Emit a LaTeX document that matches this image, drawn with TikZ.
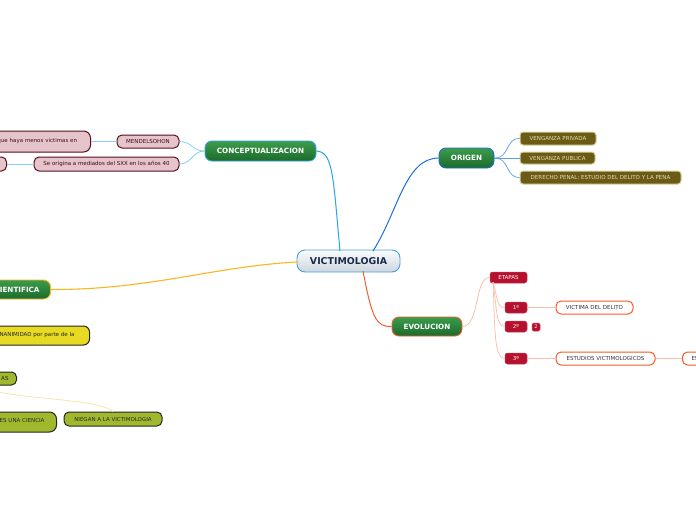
\documentclass[tikz,border=0pt]{standalone}
\usepackage{fontspec}
\setmainfont{DejaVu Sans}
\definecolor{gtop}{HTML}{3C9C4A}
\definecolor{gbot}{HTML}{1C6A2C}
\definecolor{vtop}{HTML}{FAFCFD}
\definecolor{vbot}{HTML}{CDD6DF}
\definecolor{vborder}{HTML}{4AA0DC}
\definecolor{vtext}{HTML}{1A2A4A}
\definecolor{pinkf}{HTML}{E6C4CB}
\definecolor{maroon}{HTML}{5A0F1E}
\definecolor{olivef}{HTML}{6B5B16}
\definecolor{oliveb}{HTML}{D8D2A0}
\definecolor{olivet}{HTML}{E6DDB0}
\definecolor{crimson}{HTML}{B5102D}
\definecolor{orangeb}{HTML}{F25A26}
\definecolor{yelf}{HTML}{E6DA22}
\definecolor{limef}{HTML}{A0B82E}
\definecolor{cLight}{HTML}{86D2F2}
\definecolor{cConc}{HTML}{2AA4E2}
\definecolor{cOrig}{HTML}{1A6FD8}
\definecolor{cOrigS}{HTML}{5C9CE6}
\definecolor{cEvol}{HTML}{F06030}
\definecolor{cEvolS}{HTML}{F8C0A8}
\definecolor{cSci}{HTML}{F8B820}
\definecolor{cFaint}{HTML}{F8E2A6}
\tikzset{
  smallfont/.style={font=\fontsize{5.5}{6.5}\selectfont},
  topic/.style={draw=#1, line width=0.9pt, rounded corners=7pt, top color=gtop, bottom color=gbot,
    text=white, font=\bfseries\fontsize{7.2}{8}\selectfont, inner sep=0pt},
  central/.style={draw=vborder, line width=0.9pt, rounded corners=8pt, top color=vtop, bottom color=vbot,
    text=vtext, font=\bfseries\fontsize{9.4}{10}\selectfont, inner sep=0pt},
  pinkbox/.style={draw=maroon, line width=1pt, fill=pinkf, rounded corners=5pt, text=maroon!70!black,
    smallfont, inner sep=0pt},
  olivebox/.style={draw=oliveb, line width=1pt, fill=olivef, rounded corners=3pt, text=olivet,
    smallfont, inner sep=0pt},
  redbox/.style={fill=crimson, draw=crimson!80!white, line width=0.5pt, rounded corners=2.5pt, text=white,
    smallfont, inner sep=0pt},
  whitebox/.style={draw=orangeb, line width=1pt, fill=white, rounded corners=5pt, text=black!80,
    smallfont, inner sep=0pt},
  yelbox/.style={draw=black!85, line width=1pt, fill=yelf, rounded corners=6pt, text=black!85,
    smallfont, inner sep=0pt},
  limebox/.style={draw=black!85, line width=1pt, fill=limef, rounded corners=5pt, text=black!85,
    smallfont, inner sep=0pt},
}
\begin{document}
\begin{tikzpicture}[x=1pt,y=-1pt]
\useasboundingbox (0,0) rectangle (696,520);
\fill[white] (0,0) rectangle (696,520);

\coordinate (vtl) at (340,251);
\coordinate (vtr) at (373,251);
\coordinate (vbr) at (363,271);
\coordinate (vl) at (298,262);

% central
\node[central, minimum width=103pt, minimum height=22pt] (v) at (348.5,261) {VICTIMOLOGIA};

% main topics
\node[topic=cConc, minimum width=111pt, minimum height=20pt] (c) at (260.5,151) {CONCEPTUALIZACION};
\node[topic=cOrig, minimum width=55pt, minimum height=20pt] (o) at (466.5,158) {ORIGEN};
\node[topic=cEvol, minimum width=70pt, minimum height=19pt] (e) at (427,326.5) {EVOLUCION};
\node[topic=cSci, anchor=east, minimum height=19pt, text width=80pt, align=right, inner xsep=11pt] (sci) at (51,289.5) {CIENTIFICA};

\draw[cConc, line width=1pt] (vtl) .. controls (333,175) and (333,152) .. (c.east);
\draw[cOrig, line width=1pt] (vtr) .. controls (398,212) and (405,158) .. (o.west);
\draw[cEvol, line width=1pt] (vbr) .. controls (372,318) and (376,327) .. (e.west);
\draw[cSci, line width=1.1pt] (vl) .. controls (215,266) and (150,290) .. (sci.east);

% conceptualizacion children
\node[pinkbox, minimum width=62pt, minimum height=13pt] (mend) at (148,141.5) {MENDELSOHON};
\node[pinkbox, minimum width=145pt, minimum height=14pt] (seor) at (106.5,164) {Se origina a mediados del SXX en los años 40};
\node[pinkbox, anchor=east, minimum height=21pt, text width=87pt, align=left, inner xsep=6pt, rounded corners=7pt] (que) at (91,141.5) {\raisebox{3pt}{que haya menos victimas en}};
\node[pinkbox, anchor=east, minimum width=30pt, minimum height=14pt] (lp) at (7,164) {};
\draw[cLight, line width=0.8pt] (c.west) .. controls (192,151) and (192,141.5) .. (mend.east);
\draw[cLight, line width=0.8pt] (c.west) .. controls (192,151) and (192,164) .. (seor.east);
\draw[cLight, line width=0.8pt] (mend.west) -- (que.east);
\draw[cLight, line width=0.8pt] (seor.west) -- (lp.east);

% origen children
\node[olivebox, minimum width=76pt, minimum height=13pt] (vpriv) at (558,138.5) {VENGANZA PRIVADA};
\node[olivebox, minimum width=75pt, minimum height=12pt] (vpub) at (557.5,158) {VENGANZA PUBLICA};
\node[olivebox, minimum width=161pt, minimum height=13pt] (dpen) at (600.5,177.5) {DERECHO PENAL: ESTUDIO DEL DELITO Y LA PENA};
\draw[cOrigS, line width=0.7pt] (o.east) .. controls (510,158) and (505,138.5) .. (vpriv.west);
\draw[cOrigS, line width=0.7pt] (o.east) -- (vpub.west);
\draw[cOrigS, line width=0.7pt] (o.east) .. controls (510,158) and (505,177.5) .. (dpen.west);

% evolucion children
\node[redbox, minimum width=37pt, minimum height=11pt] (etapas) at (508.5,277.5) {ETAPAS};
\node[redbox, minimum width=22pt, minimum height=11pt] (s1) at (516,307.5) {1º};
\node[redbox, minimum width=22pt, minimum height=11pt] (s2) at (516,326.5) {2º};
\node[redbox, minimum width=8pt, minimum height=8pt, rounded corners=1.5pt, font=\fontsize{5}{5}\selectfont] (badge) at (536,327) {2};
\node[redbox, minimum width=22pt, minimum height=11pt] (s3) at (516,358.5) {3º};
\node[whitebox, minimum width=77pt, minimum height=13pt] (vd) at (594.5,307.5) {VICTIMA DEL DELITO};
\node[whitebox, minimum width=99pt, minimum height=13pt] (ev) at (605.5,358.5) {ESTUDIOS VICTIMOLOGICOS};
\node[whitebox, anchor=west, minimum height=13pt, text width=60pt, align=left, inner xsep=9pt] (es) at (682,358.5) {ES};
\coordinate (etb) at (493,282);
\draw[cEvolS, line width=0.8pt] (e.east) .. controls (480,326) and (474,277.5) .. (etapas.west);
\draw[cEvolS, line width=0.7pt] (etb) .. controls (498,300) and (497,307.5) .. (s1.west);
\draw[cEvolS, line width=0.7pt] (etb) .. controls (497,310) and (496,326.5) .. (s2.west);
\draw[cEvolS, line width=0.7pt] (etb) .. controls (495,330) and (494,358.5) .. (s3.west);
\draw[cEvolS, line width=0.8pt] (s1.east) -- (vd.west);
\draw[cEvolS, line width=0.8pt] (s3.east) -- (ev.west);
\draw[cEvolS, line width=0.8pt] (ev.east) -- (es.west);

% cientifica area
\node[yelbox, anchor=east, minimum height=19pt, text width=88pt, align=left, inner xsep=6pt] (yel) at (90,335.5) {\raisebox{2.5pt}{UNANIMIDAD por parte de la}};
\node[limebox, anchor=east, minimum height=13pt, text width=30pt, align=right, inner xsep=8pt] (as) at (17,378.5) {AS};
\node[limebox, anchor=east, minimum height=20pt, text width=50pt, align=right, inner xsep=12pt, rounded corners=7pt] (esc) at (57,422) {\raisebox{3pt}{ES UNA CIENCIA}};
\node[limebox, minimum width=98pt, minimum height=14pt] (nieg) at (113,419) {NIEGAN A LA VICTIMOLOGIA};
\coordinate (fs) at (-2,392);
\draw[cFaint, line width=0.7pt] (fs) .. controls (40,400) and (100,400) .. (nieg.north);
\end{tikzpicture}
\end{document}
